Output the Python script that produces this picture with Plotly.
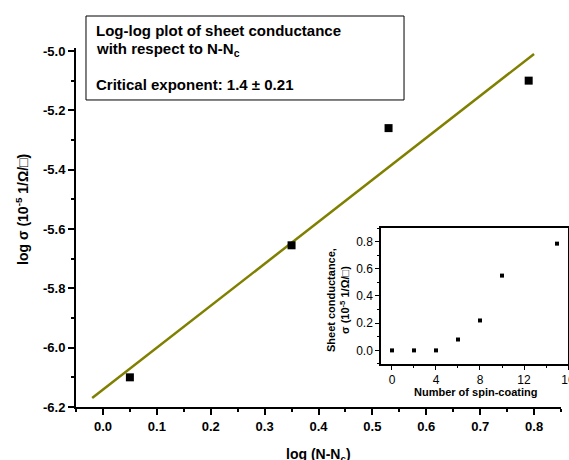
import plotly.graph_objects as go

# ---- data ----
main_x = [0.05, 0.35, 0.53, 0.79]
main_y = [-6.10, -5.655, -5.26, -5.10]
fit_x = [-0.02, 0.80]
fit_y = [-6.17, -5.01]
inset_x = [0, 2, 4, 6, 8, 10, 15]
inset_y = [0.0, 0.0, 0.0, 0.08, 0.22, 0.55, 0.785]
y_tickvals = [-6.2, -6.0, -5.8, -5.6, -5.4, -5.2, -5.0]
y_ticktext = ["-6.2", "-6.0", "-5.8", "-5.6", "-5.4", "-5.2", "-5.0"]

FONT = "Liberation Sans, Arial, sans-serif"

fig = go.Figure()
fig.add_trace(go.Scatter(x=fit_x, y=fit_y, mode="lines",
                         line=dict(color="#808000", width=2.5),
                         showlegend=False, xaxis="x", yaxis="y"))
fig.add_trace(go.Scatter(x=main_x, y=main_y, mode="markers",
                         marker=dict(symbol="square", size=8, color="black"),
                         showlegend=False, xaxis="x", yaxis="y"))
fig.add_trace(go.Scatter(x=inset_x, y=inset_y, mode="markers",
                         marker=dict(symbol="square", size=4, color="black"),
                         showlegend=False, xaxis="x2", yaxis="y2"))

axis_common = dict(showgrid=False, zeroline=False, showline=True,
                   linecolor="black", ticks="outside", tickcolor="black")

fig.update_layout(
    width=569, height=460,
    margin=dict(l=76, r=1, t=48, b=53, autoexpand=False),
    plot_bgcolor="white", paper_bgcolor="white",
    font=dict(family=FONT, color="black"),
    xaxis=dict(**axis_common, domain=[0, 0.9858], range=[-0.05, 0.85],
               tick0=0, dtick=0.1, tickformat=".1f", ticklen=6, tickwidth=1.5,
               linewidth=2,
               tickfont=dict(size=13, weight="bold", family=FONT),
               minor=dict(ticks="outside", dtick=0.05, tick0=0, ticklen=3,
                          tickcolor="black", tickwidth=1.5)),
    yaxis=dict(**axis_common, domain=[0, 1], range=[-6.2, -4.99],
               tickmode="array", tickvals=y_tickvals, ticktext=y_ticktext,
               ticklen=6, tickwidth=1.5, linewidth=2,
               tickfont=dict(size=13, weight="bold", family=FONT),
               minor=dict(ticks="outside", tickmode="linear", tick0=-6.2, dtick=0.1,
                          ticklen=3, tickcolor="black", tickwidth=1.5)),
    xaxis2=dict(**axis_common, domain=[0.6199, 1.0], anchor="y2", range=[-1, 16],
                tick0=0, dtick=4, ticklen=4, tickwidth=1, linewidth=1.5, mirror=True,
                ticklabeloverflow="allow",
                tickfont=dict(size=12, family=FONT),
                minor=dict(ticks="outside", dtick=2, tick0=0, ticklen=2,
                           tickcolor="black", tickwidth=1)),
    yaxis2=dict(**axis_common, domain=[0.1198, 0.4986], anchor="x2", range=[-0.1, 0.9],
                tick0=0, dtick=0.2, tickformat=".1f", ticklen=4, tickwidth=1,
                linewidth=1.5, mirror=True,
                tickfont=dict(size=12, family=FONT),
                minor=dict(ticks="outside", dtick=0.1, tick0=0, ticklen=2,
                           tickcolor="black", tickwidth=1)),
)

# text box frame
fig.add_shape(type="rect", xref="paper", yref="paper",
              x0=0.0203, x1=0.6667, y0=0.8552, y1=1.0891,
              line=dict(color="black", width=1), fillcolor="white", layer="below")

box_font = dict(size=15, family=FONT)
annotations = [
    dict(text="<b>Log-log plot of sheet conductance</b>", xref="paper", yref="paper",
         x=0.0366, y=1.0501, xanchor="left", yanchor="middle", showarrow=False,
         font=box_font),
    dict(text="<b>with respect to N-N<sub>c</sub></b>", xref="paper", yref="paper",
         x=0.0366, y=0.9972, xanchor="left", yanchor="middle", showarrow=False,
         font=box_font),
    dict(text="<b>Critical exponent: 1.4 ± 0.21</b>", xref="paper", yref="paper",
         x=0.0366, y=0.8997, xanchor="left", yanchor="middle", showarrow=False,
         font=box_font),
    dict(text="<b>log σ (10<sup>-5</sup> 1/Ω/□)</b>", xref="paper", yref="paper",
         x=-0.1098, y=0.5516, textangle=-90, showarrow=False,
         xanchor="center", yanchor="middle", font=dict(size=14, family=FONT)),
    dict(text="<b>log (N-N<sub>c</sub>)</b>", xref="paper", yref="paper",
         x=0.4929, y=-0.1337, showarrow=False, xanchor="center", yanchor="middle",
         font=dict(size=14, family=FONT)),
    dict(text="<b>Sheet conductance,<br>σ (10<sup>-5</sup> 1/Ω/□)</b>", xref="paper", yref="paper",
         x=0.5325, y=0.298, textangle=-90, showarrow=False,
         xanchor="center", yanchor="middle", font=dict(size=11, family=FONT)),
    dict(text="<b>Number of spin-coating</b>", xref="paper", yref="paper",
         x=0.813, y=0.0418, showarrow=False, xanchor="center", yanchor="middle",
         font=dict(size=11, family=FONT)),
]
fig.update_layout(annotations=annotations)

fig.write_html("out.html", config={"displayModeBar": False},
               post_script="document.body.style.margin='0';document.body.style.padding='0';")
